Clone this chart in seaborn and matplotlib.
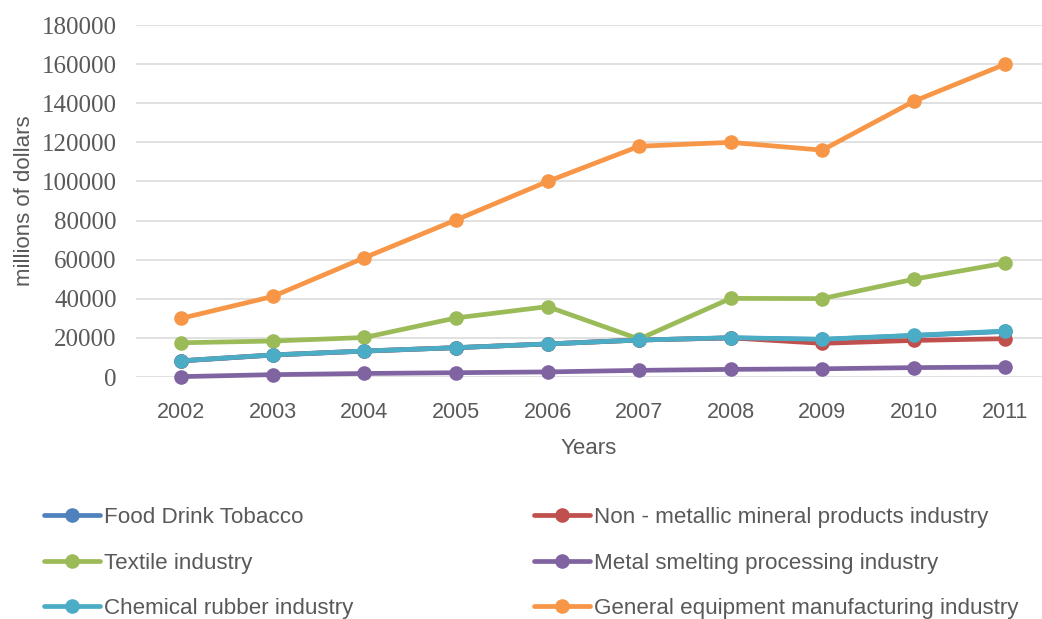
import matplotlib.pyplot as plt
from matplotlib.lines import Line2D
import pandas as pd
import seaborn as sns

# ---- data ----
years = [2002, 2003, 2004, 2005, 2006, 2007, 2008, 2009, 2010, 2011]

food_drink_tobacco = [8200, 11200, 13200, 15000, 16900, 18900, 20000, 19200, 21200, 23300]
non_metallic = [8300, 11300, 13300, 15000, 16900, 18900, 20000, 17200, 18700, 19600]
textile = [17500, 18400, 20200, 30200, 36000, 19400, 40200, 40100, 50000, 58300]
metal_smelting = [200, 1200, 1800, 2200, 2600, 3400, 3900, 4200, 4800, 5100]
chemical_rubber = [8300, 11300, 13300, 15000, 16900, 18900, 20100, 19300, 21300, 23500]
general_equipment = [30000, 41200, 61000, 80300, 100000, 118000, 120000, 116000, 141000, 160000]

series_names = [
    "Food Drink Tobacco",
    "Non - metallic mineral products industry",
    "Textile industry",
    "Metal smelting processing industry",
    "Chemical rubber industry",
    "General equipment manufacturing industry",
]
series_values = [
    food_drink_tobacco,
    non_metallic,
    textile,
    metal_smelting,
    chemical_rubber,
    general_equipment,
]
colors = ["#4F81BD", "#C0504D", "#9BBB59", "#8064A2", "#4BACC6", "#F79646"]

df = pd.concat(
    [pd.DataFrame({"year": years, "value": vals, "series": name})
     for name, vals in zip(series_names, series_values)],
    ignore_index=True,
)

TEXT = "#595959"
SANS = ["Liberation Sans", "DejaVu Sans"]
SERIF = ["Liberation Serif", "DejaVu Serif"]

sns.set_style("white")
plt.rcParams["font.family"] = SANS

fig = plt.figure(figsize=(10.42, 6.19), dpi=100)
ax = fig.add_axes([136 / 1042, 1 - 377 / 619, (1042 - 136) / 1042, (377 - 25) / 619])

palette = dict(zip(series_names, colors))
sns.lineplot(
    data=df, x="year", y="value", hue="series",
    hue_order=series_names, palette=palette,
    marker="o", markersize=10.5, markeredgewidth=0,
    linewidth=3.4, sort=False, legend=False, clip_on=False, ax=ax,
)

ax.set_ylim(0, 180000)
ax.set_yticks(range(0, 180001, 20000))
ax.set_xlim(2001.505, 2011.40)
ax.set_xticks(years)
ax.grid(axis="y", color="#D9D9D9", linewidth=1.1)
ax.set_axisbelow(True)
for s in ax.spines.values():
    s.set_visible(False)
ax.tick_params(axis="both", length=0, colors=TEXT)
ax.tick_params(axis="y", pad=14)
ax.tick_params(axis="x", pad=18)
for lab in ax.get_yticklabels():
    lab.set_fontfamily(SERIF)
    lab.set_fontsize(18)
for lab in ax.get_xticklabels():
    lab.set_fontsize(15.5)

ax.set_xlabel("Years", fontsize=16, color=TEXT, labelpad=11)
ax.set_ylabel("millions of dollars", fontsize=16, color=TEXT, labelpad=5)

# legend: two columns, filled column-wise
handles = {
    name: Line2D([], [], color=c, linewidth=3.4, marker="o", markersize=10.5, markeredgewidth=0)
    for name, c in zip(series_names, colors)
}
order = [0, 2, 4, 1, 3, 5]
leg = fig.legend(
    [handles[series_names[i]] for i in order],
    [series_names[i] for i in order],
    ncol=2, loc="upper left", bbox_to_anchor=(44 / 1042, 1 - 507 / 619),
    frameon=False, fontsize=16.1, handlelength=2.5, handletextpad=0.18,
    labelspacing=1.1, columnspacing=8.08, borderpad=0, borderaxespad=0,
)
for t in leg.get_texts():
    t.set_color(TEXT)

fig.savefig("out.png", dpi=100)
